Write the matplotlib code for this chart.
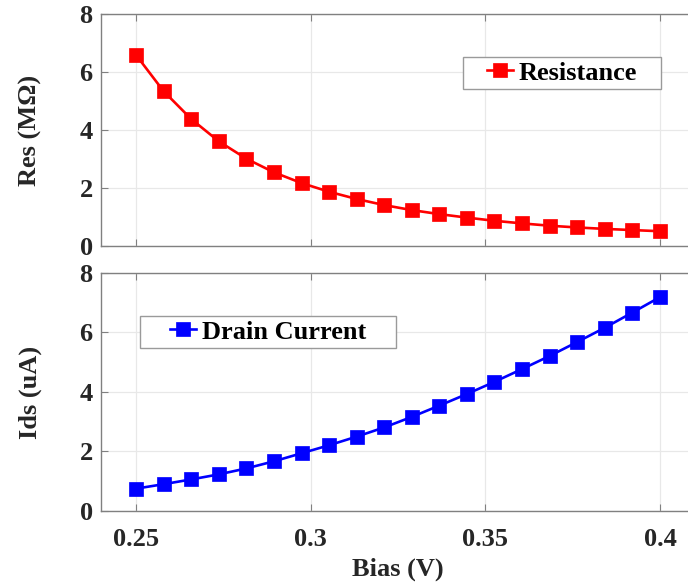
import matplotlib
matplotlib.use('Agg')
import matplotlib.pyplot as plt
from matplotlib.path import Path

plt.rcParams['font.family'] = ['Liberation Serif', 'DejaVu Serif']
plt.rcParams['font.weight'] = 'bold'

# sweep data
bias = [0.2500, 0.2579, 0.2658, 0.2737, 0.2816, 0.2895, 0.2974, 0.3053, 0.3132, 0.3211,
        0.3289, 0.3368, 0.3447, 0.3526, 0.3605, 0.3684, 0.3763, 0.3842, 0.3921, 0.4000]
res_mohm = [6.59, 5.34, 4.38, 3.61, 3.01, 2.54, 2.17, 1.87, 1.62, 1.41,
            1.24, 1.10, 0.98, 0.87, 0.78, 0.70, 0.64, 0.59, 0.55, 0.51]
ids_ua = [0.75, 0.90, 1.06, 1.23, 1.43, 1.67, 1.94, 2.21, 2.50, 2.81,
          3.16, 3.54, 3.93, 4.34, 4.77, 5.21, 5.68, 6.16, 6.67, 7.19]
xticks = [0.25, 0.3, 0.35, 0.4]
xticklabels = ['0.25', '0.3', '0.35', '0.4']
yticks = [0, 2, 4, 6, 8]

AX_COLOR = '#808080'
TXT_COLOR = '#262626'


def wide_box(padx, pady=0.17):
	# rectangle with more room left/right than top/bottom
	def box(x0, y0, width, height, mutation_size):
		px = padx * mutation_size
		py = pady * mutation_size
		return Path([(x0 - px, y0 - py), (x0 + width + px, y0 - py),
		             (x0 + width + px, y0 + height + py), (x0 - px, y0 + height + py),
		             (x0 - px, y0 - py)], closed=True)
	return box


def style_axes(ax):
	for sp in ax.spines.values():
		sp.set_color(AX_COLOR)
		sp.set_linewidth(1.0)
	ax.tick_params(direction='in', length=5, width=0.8, color=AX_COLOR,
	               top=True, right=True, labelsize=19, labelcolor=TXT_COLOR, pad=6)
	ax.tick_params(axis='x', pad=12)
	ax.grid(True, color='#e8e8e8', linewidth=0.9)
	ax.set_axisbelow(True)
	ax.set_xlim(0.24, 0.41)
	ax.set_ylim(0, 8)
	ax.set_xticks(xticks)
	ax.set_yticks(yticks)
	for lab in ax.get_xticklabels() + ax.get_yticklabels():
		lab.set_fontweight('bold')


def add_legend(ax, center, padx):
	leg = ax.legend(loc='center', bbox_to_anchor=center, fontsize=19,
	                handlelength=1.0, handletextpad=0.2, borderpad=0.0,
	                borderaxespad=0, fancybox=False, framealpha=1)
	frame = leg.get_frame()
	frame.set_boxstyle(wide_box(padx))
	frame.set_edgecolor('#9a9a9a')
	frame.set_linewidth(1.0)
	for t in leg.get_texts():
		t.set_color('black')
		t.set_fontweight('bold')
	return leg


fig = plt.figure(figsize=(6.88, 5.88), dpi=100)
ax1 = fig.add_axes([0.1468, 0.5816, 0.8634, 0.3946])
ax2 = fig.add_axes([0.1468, 0.1310, 0.8634, 0.4048])

ax1.plot(bias, res_mohm, '-s', color='red', linewidth=1.9, markersize=9.5,
         markeredgewidth=0.5, label='Resistance')
style_axes(ax1)
ax1.set_xticklabels([])
ax1.set_ylabel('Res (M\u03a9)', fontsize=19, fontweight='bold', color=TXT_COLOR, labelpad=27)
add_legend(ax1, (0.776, 0.746), 0.9)

ax2.plot(bias, ids_ua, '-s', color='blue', linewidth=1.9, markersize=9.5,
         markeredgewidth=0.5, label='Drain Current')
style_axes(ax2)
ax2.set_xticklabels(xticklabels)
ax2.set_ylabel('Ids (uA)', fontsize=19, fontweight='bold', color=TXT_COLOR, labelpad=27)
ax2.set_xlabel('Bias (V)', fontsize=19, fontweight='bold', color=TXT_COLOR, labelpad=5)
add_legend(ax2, (0.281, 0.752), 1.15)

fig.savefig('out.png', dpi=100, facecolor='white')
